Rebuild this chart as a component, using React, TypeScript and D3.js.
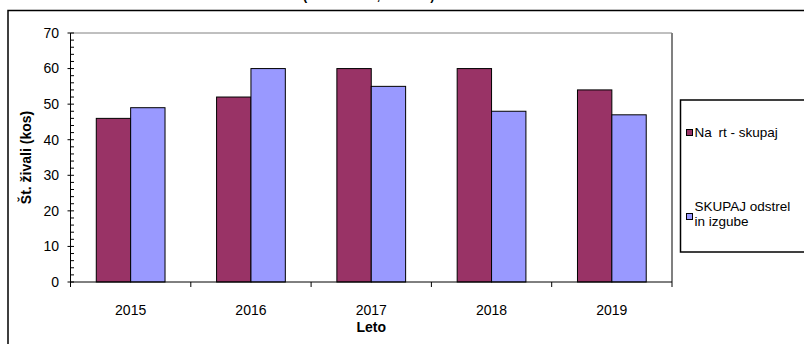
import React from "react";
import * as d3 from "d3";

const years = ["2015", "2016", "2017", "2018", "2019"];
const planValues = [46, 52, 60, 60, 54];
const totalValues = [49, 60, 55, 48, 47];
const seriesKeys = ["plan", "total"];
const seriesColors = ["#993366", "#9999FF"];
const yMajorTicks = [0, 10, 20, 30, 40, 50, 60, 70];
const titleText = "(2015 – 2019, odvzem)";
const legendPlan = "Na\u2002rt - skupaj";
const legendTotal = ["SKUPAJ odstrel", "in izgube"];
const yTitle = "Št. živali (kos)";
const xTitle = "Leto";

const W = 804;
const H = 344;
const plot = { left: 70.5, right: 672, top: 33, bottom: 282 };
const font = "Arial, 'Liberation Sans', sans-serif";

export default function App() {
  const x = d3.scaleBand<string>().domain(years).range([plot.left, plot.right]).padding(0);
  const x1 = d3
    .scaleBand<string>()
    .domain(seriesKeys)
    .range([0, x.bandwidth()])
    .paddingInner(0)
    .paddingOuter(0.75);
  const y = d3.scaleLinear().domain([0, 70]).range([plot.bottom, plot.top]);
  const minorTicks = d3.range(0, 71, 2).filter((v) => v % 10 !== 0);
  const values = [planValues, totalValues];
  const boundaries = [...years.map((yr) => x(yr) as number), plot.right];

  return (
    <svg
      width={W}
      height={H}
      style={{ position: "absolute", left: 0, top: 0, background: "#fff" }}
      fontFamily={font}
    >
      <rect x={0} y={0} width={W} height={H} fill="#fff" />
      {/* title, sitting above the frame */}
      <text x={303} y={0.2} fontSize={12.5} fontWeight="bold" fill="#000">
        {titleText}
      </text>
      {/* outer chart frame */}
      <rect x={8} y={10.5} width={W + 20} height={H + 20} fill="none" stroke="#000" strokeWidth={1.5} />

      {/* plot area border */}
      <line x1={plot.left} x2={plot.right} y1={plot.top} y2={plot.top} stroke="#808080" strokeWidth={1} />
      <line x1={plot.right} x2={plot.right} y1={plot.top} y2={plot.bottom} stroke="#808080" strokeWidth={2} />

      {/* bars */}
      {years.map((yr, i) => (
        <g key={yr} transform={`translate(${x(yr)},0)`}>
          {seriesKeys.map((k, s) => (
            <rect
              key={k}
              x={x1(k)}
              y={y(values[s][i])}
              width={x1.bandwidth()}
              height={y(0) - y(values[s][i])}
              fill={seriesColors[s]}
              stroke="#000"
              strokeWidth={1}
            />
          ))}
        </g>
      ))}

      {/* y axis */}
      <line x1={plot.left} x2={plot.left} y1={plot.top} y2={plot.bottom} stroke="#000" strokeWidth={1} />
      {minorTicks.map((v) => (
        <line key={"m" + v} x1={plot.left} x2={plot.left + 3.5} y1={y(v)} y2={y(v)} stroke="#000" strokeWidth={1} />
      ))}
      {yMajorTicks.map((v) => (
        <g key={"t" + v}>
          <line x1={plot.left - 3} x2={plot.left + 3.5} y1={y(v)} y2={y(v)} stroke="#000" strokeWidth={1} />
          <text x={59} y={y(v)} dy="0.35em" textAnchor="end" fontSize={14} fill="#000">
            {v}
          </text>
        </g>
      ))}

      {/* x axis */}
      <line x1={plot.left} x2={plot.right} y1={plot.bottom} y2={plot.bottom} stroke="#000" strokeWidth={1} />
      {boundaries.map((bx, i) => (
        <line key={"xb" + i} x1={bx} x2={bx} y1={plot.bottom} y2={plot.bottom + 5} stroke="#000" strokeWidth={1} />
      ))}
      {years.map((yr) => (
        <text
          key={"xl" + yr}
          x={(x(yr) as number) + x.bandwidth() / 2}
          y={315}
          textAnchor="middle"
          fontSize={14}
          fill="#000"
        >
          {yr}
        </text>
      ))}

      {/* axis titles */}
      <text x={(plot.left + plot.right) / 2} y={332} textAnchor="middle" fontSize={14} fontWeight="bold" fill="#000">
        {xTitle}
      </text>
      <text
        transform={`translate(31,${(plot.top + plot.bottom) / 2}) rotate(-90)`}
        textAnchor="middle"
        fontSize={14}
        fontWeight="bold"
        fill="#000"
      >
        {yTitle}
      </text>

      {/* legend */}
      <rect x={680.5} y={100} width={140} height={152} fill="#fff" stroke="#000" strokeWidth={1.5} />
      <rect x={686.5} y={129.5} width={6} height={6} fill={seriesColors[0]} stroke="#000" strokeWidth={1} />
      <text x={694.5} y={137} fontSize={13.5} fill="#000">
        {legendPlan}
      </text>
      <rect x={686.5} y={213.5} width={6} height={6} fill={seriesColors[1]} stroke="#000" strokeWidth={1} />
      <text x={694.5} y={211} fontSize={13.5} fill="#000">
        {legendTotal[0]}
      </text>
      <text x={694.5} y={226} fontSize={13.5} fill="#000">
        {legendTotal[1]}
      </text>
    </svg>
  );
}
